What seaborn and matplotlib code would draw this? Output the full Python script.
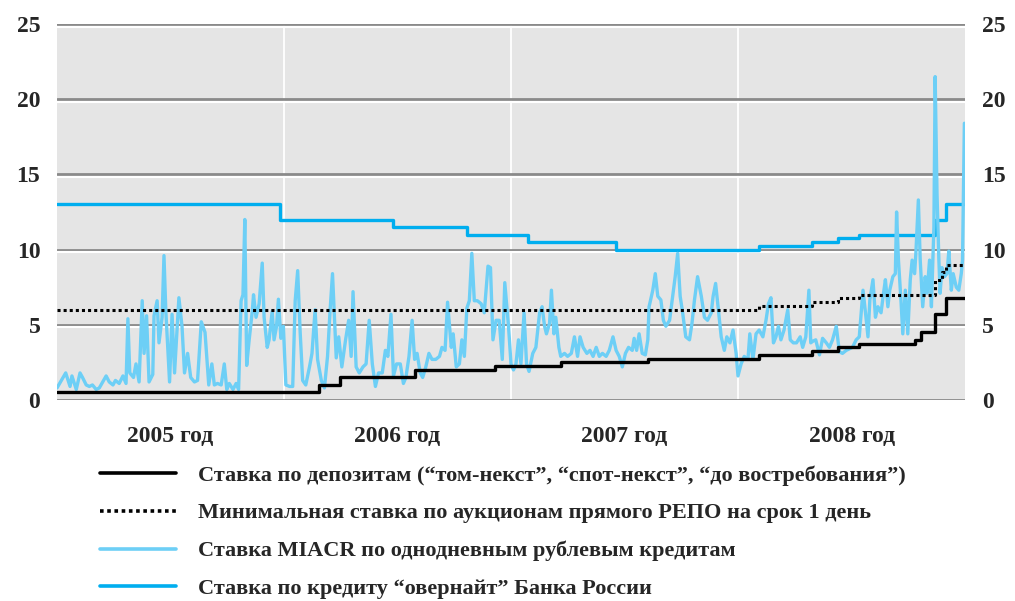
import numpy as np
import pandas as pd
import matplotlib
matplotlib.use("Agg")
import matplotlib.pyplot as plt
import seaborn as sns
from matplotlib.transforms import offset_copy

sns.set_theme(style="white")
plt.rcParams["font.family"] = ["Liberation Serif", "DejaVu Serif"]
plt.rcParams["font.weight"] = "bold"

# ---------------- data ----------------
years = [2005, 2006, 2007, 2008]
year_labels = ["2005 год", "2006 год", "2007 год", "2008 год"]
y_ticks = [0, 5, 10, 15, 20, 25]
period_start = "2005-01-01"
period_end = "2008-12-31"

# Overnight credit rate of the Bank of Russia (step series)
overnight_dates = ["2005-01-01", "2005-12-26", "2006-06-26", "2006-10-23", "2007-01-29",
                   "2007-06-19", "2008-02-04", "2008-04-29", "2008-06-10", "2008-07-14",
                   "2008-11-12", "2008-12-01", "2008-12-31"]
overnight_rates = [13.0, 12.0, 11.5, 11.0, 10.5, 10.0, 10.25, 10.5, 10.75, 11.0, 12.0, 13.0, 13.0]

# Deposit rate (tom-next, spot-next, call) (step series)
deposit_dates = ["2005-01-01", "2006-02-27", "2006-04-01", "2006-07-31", "2006-12-07",
                 "2007-03-22", "2007-08-09", "2008-02-04", "2008-04-29", "2008-06-10",
                 "2008-07-14", "2008-10-11", "2008-10-22", "2008-11-12", "2008-12-01",
                 "2008-12-31"]
deposit_rates = [0.5, 1.0, 1.5, 2.0, 2.25, 2.5, 2.75, 3.0, 3.25, 3.5, 3.75, 4.0, 4.5,
                 5.75, 6.75, 6.75]

# Minimal rate of 1-day direct REPO auctions (step series)
repo_dates = ["2005-01-01", "2008-02-04", "2008-04-29", "2008-06-10", "2008-07-14",
              "2008-11-12", "2008-11-24", "2008-12-01", "2008-12-31"]
repo_rates = [6.0, 6.25, 6.5, 6.75, 7.0, 8.0, 8.5, 9.0, 9.0]

# MIACR overnight rouble credit rate: days since 2005-01-01 and values
miacr_day = [0, 14, 21, 24, 31, 37, 41, 47, 52, 57, 63, 68, 79, 84, 90, 94, 100, 106, 111, 114,
             117, 123, 127, 132, 137, 140, 144, 148, 154, 156, 161, 164, 169, 172, 175, 181, 185,
             189, 196, 201, 205, 210, 215, 221, 226, 232, 238, 244, 249, 253, 258, 264, 269, 273,
             277, 283, 288, 292, 296, 299, 302, 305, 309, 314, 316, 320, 325, 330, 333, 338, 341,
             346, 349, 353, 356, 360, 364, 368, 374, 379, 383, 387, 391, 395, 400, 406, 410, 415,
             419, 425, 430, 435, 439, 443, 449, 453, 458, 464, 469, 473, 476, 481, 486, 492, 497,
             502, 507, 512, 517, 523, 528, 532, 537, 541, 546, 552, 557, 561, 566, 571, 575, 579,
             584, 588, 593, 598, 603, 609, 615, 619, 624, 628, 634, 637, 642, 647, 651, 655, 659,
             663, 667, 671, 676, 682, 687, 693, 697, 701, 706, 711, 716, 720, 726, 730, 734, 738,
             742, 746, 751, 755, 759, 765, 770, 776, 780, 784, 787, 792, 795, 799, 802, 807, 810,
             816, 821, 827, 832, 837, 841, 846, 852, 857, 862, 867, 872, 877, 883, 888, 894, 899,
             904, 909, 914, 919, 925, 928, 932, 936, 941, 946, 950, 952, 958, 962, 966, 971, 975,
             979, 985, 990, 994, 998, 1002, 1006, 1011, 1017, 1021, 1025, 1030, 1036, 1041, 1046,
             1052, 1055, 1059, 1064, 1068, 1073, 1077, 1082, 1087, 1092, 1095, 1100, 1105, 1111,
             1114, 1119, 1124, 1129, 1135, 1140, 1144, 1148, 1152, 1156, 1160, 1164, 1169, 1175,
             1179, 1184, 1189, 1195, 1199, 1204, 1209, 1212, 1215, 1220, 1226, 1231, 1237, 1242,
             1247, 1253, 1258, 1263, 1269, 1274, 1279, 1285, 1290, 1296, 1300, 1304, 1307, 1312,
             1316, 1320, 1325, 1329, 1332, 1336, 1339, 1344, 1348, 1350, 1353, 1357, 1360, 1364,
             1368, 1372, 1375, 1379, 1381, 1385, 1388, 1392, 1396, 1399, 1403, 1406, 1410, 1412,
             1415, 1418, 1420, 1423, 1427, 1431, 1434, 1438, 1441, 1446, 1450, 1454, 1456, 1459]
miacr_rate = [0.8, 1.8, 0.9, 1.6, 0.7, 1.8, 1.5, 1.0, 0.9, 1.0, 0.7, 0.8, 1.6, 1.2, 1.0, 1.3, 1.1,
              1.6, 1.1, 5.4, 1.8, 1.5, 2.4, 1.2, 6.6, 3.1, 5.6, 1.2, 1.7, 5.6, 6.6, 3.8, 5.5, 9.6,
              5.9, 1.2, 5.7, 1.8, 6.8, 4.9, 1.8, 3.1, 1.5, 1.2, 1.3, 5.2, 4.5, 1.0, 2.4, 1.0, 1.1,
              1.0, 2.4, 0.7, 1.1, 0.7, 1.1, 0.7, 6.6, 7.0, 12.0, 2.3, 4.0, 5.9, 7.0, 5.5, 6.4, 9.1,
              5.5, 3.5, 4.0, 5.9, 4.0, 4.9, 6.7, 4.1, 4.9, 1.0, 0.9, 0.9, 6.6, 8.6, 4.5, 1.3, 1.0,
              2.2, 3.1, 6.0, 2.7, 1.3, 0.8, 2.9, 5.9, 8.4, 2.8, 4.2, 2.2, 4.0, 5.3, 2.9, 7.2, 2.2,
              1.8, 2.2, 2.4, 5.3, 2.4, 0.9, 1.8, 1.8, 3.3, 2.9, 5.7, 1.6, 2.4, 2.4, 1.1, 1.5, 2.9,
              5.3, 2.7, 3.1, 1.8, 1.5, 2.2, 3.1, 2.7, 2.7, 2.9, 3.5, 3.3, 6.5, 3.5, 4.4, 2.2, 2.4,
              4.0, 2.9, 6.1, 6.6, 9.75, 6.6, 6.6, 6.4, 5.8, 8.9, 8.8, 4.0, 5.3, 5.3, 2.7, 7.8, 4.9,
              2.4, 2.0, 2.4, 4.0, 2.4, 5.8, 2.4, 1.9, 3.1, 3.5, 5.8, 6.2, 4.9, 4.4, 5.1, 7.3, 4.4,
              5.5, 3.5, 2.9, 3.1, 2.9, 3.1, 4.2, 2.9, 4.2, 3.5, 3.1, 3.3, 2.9, 3.5, 2.9, 3.1, 2.9,
              3.3, 4.2, 3.3, 2.9, 2.2, 3.1, 3.5, 3.3, 4.1, 3.3, 4.4, 3.1, 3.0, 4.0, 6.2, 7.3, 8.4,
              6.9, 6.65, 5.3, 4.9, 5.3, 6.9, 8.2, 9.75, 6.9, 5.8, 4.2, 4.0, 5.1, 6.65, 8.2, 6.9,
              5.5, 5.3, 5.8, 6.9, 7.75, 5.8, 4.2, 3.3, 4.2, 3.8, 4.65, 3.1, 1.6, 2.4, 2.9, 2.7,
              4.4, 2.7, 4.4, 4.65, 4.2, 5.3, 6.4, 6.8, 3.8, 4.2, 4.9, 4.0, 4.65, 6.0, 4.0, 3.8,
              3.8, 4.2, 3.5, 4.2, 7.3, 3.8, 3.9, 4.0, 3.0, 4.1, 3.8, 3.5, 4.0, 4.9, 3.2, 3.1, 3.3,
              3.4, 3.5, 4.0, 4.2, 7.3, 5.8, 4.2, 6.65, 8.0, 5.5, 6.2, 5.8, 7.1, 8.0, 6.2, 7.3, 8.2,
              8.4, 12.5, 9.3, 6.65, 4.4, 7.3, 4.4, 8.0, 9.3, 8.4, 9.75, 13.3, 9.3, 6.2, 8.2, 7.1,
              9.3, 6.2, 11.5, 21.5, 13.7, 9.3, 7.1, 8.8, 8.2, 8.4, 9.9, 7.3, 8.4, 7.5, 7.3, 8.4,
              9.3, 18.4]

labels = {
    "deposit": "Ставка по депозитам (“том-некст”, “спот-некст”, “до востребования”)",
    "repo": "Минимальная ставка по аукционам прямого РЕПО на срок 1 день",
    "miacr": "Ставка MIACR по однодневным рублевым кредитам",
    "overnight": "Ставка по кредиту “овернайт” Банка России",
}

# ---------------- frames ----------------
df_over = pd.DataFrame({"date": pd.to_datetime(overnight_dates), "rate": overnight_rates})
df_dep = pd.DataFrame({"date": pd.to_datetime(deposit_dates), "rate": deposit_rates})
df_repo = pd.DataFrame({"date": pd.to_datetime(repo_dates), "rate": repo_rates})
df_miacr = pd.DataFrame({
    "date": pd.Timestamp(period_start) + pd.to_timedelta(miacr_day, unit="D"),
    "rate": miacr_rate,
})

# ---------------- figure ----------------
BG = "#e5e5e5"
GRID = "#8a8a8a"
C_MIACR = "#6dcff6"
C_OVER = "#00aeef"

fig = plt.figure(figsize=(10.15, 6.01), dpi=100)
ax = fig.add_axes([57 / 1015, 1 - 400 / 601, (965 - 57) / 1015, 376 / 601])
ax.set_facecolor(BG)
for s in ax.spines.values():
    s.set_visible(False)

# year separators
for y in years[1:]:
    ax.axvline(pd.Timestamp(f"{y}-01-01"), color="white", lw=1.3, zorder=0.5)

# horizontal grid (gray line with white highlight beneath)
hl_tr = offset_copy(ax.get_yaxis_transform(), fig=fig, x=0, y=-2.6, units="dots")
for v in y_ticks:
    ax.axhline(v, color=GRID, lw=2.0, zorder=1)
    ax.plot([0, 1], [v, v], transform=hl_tr, color="white", lw=1.5, zorder=1, clip_on=False)

sns.lineplot(data=df_over, x="date", y="rate", ax=ax, color=C_OVER, lw=2.4,
             drawstyle="steps-post", label=labels["overnight"], zorder=3)
sns.lineplot(data=df_miacr, x="date", y="rate", ax=ax, color=C_MIACR, lw=2.4,
             label=labels["miacr"], zorder=4)
sns.lineplot(data=df_repo, x="date", y="rate", ax=ax, color="black", lw=2.2,
             drawstyle="steps-post", label=labels["repo"], zorder=5)
sns.lineplot(data=df_dep, x="date", y="rate", ax=ax, color="black", lw=2.4,
             drawstyle="steps-post", label=labels["deposit"], zorder=6)
ax.lines[-2].set_linestyle((0, (1, 1)))

ax.set_xlim(pd.Timestamp(period_start), pd.Timestamp(period_end))
ax.set_ylim(0, 25)
ax.set_xlabel("")
ax.set_ylabel("")

ax.set_yticks(y_ticks)
ax.set_yticklabels([str(v) for v in y_ticks])
ax.tick_params(axis="y", which="both", length=0, labelsize=17, pad=12,
               labelleft=True, labelright=True)
ax.set_xticks([pd.Timestamp(f"{y}-07-02") for y in years])
ax.set_xticklabels(year_labels)
ax.tick_params(axis="x", length=0, labelsize=17, pad=19)
for t in ax.get_yticklabels() + ax.get_xticklabels():
    t.set_fontweight("bold")

# legend
handles, labs = ax.get_legend_handles_labels()
ax.get_legend().remove()
order = [labels["deposit"], labels["repo"], labels["miacr"], labels["overnight"]]
hmap = dict(zip(labs, handles))
leg = fig.legend([hmap[k] for k in order], order, loc="upper left",
                 bbox_to_anchor=(100 / 1015, 1 - 465 / 601), frameon=False,
                 borderpad=0, borderaxespad=0, handlelength=3.4, handletextpad=1.0,
                 labelspacing=0.78, prop={"size": 16, "weight": "bold"})
for h in leg.get_lines():
    h.set_linewidth(2.6)

fig.savefig("out.png", dpi=100, facecolor="white")
